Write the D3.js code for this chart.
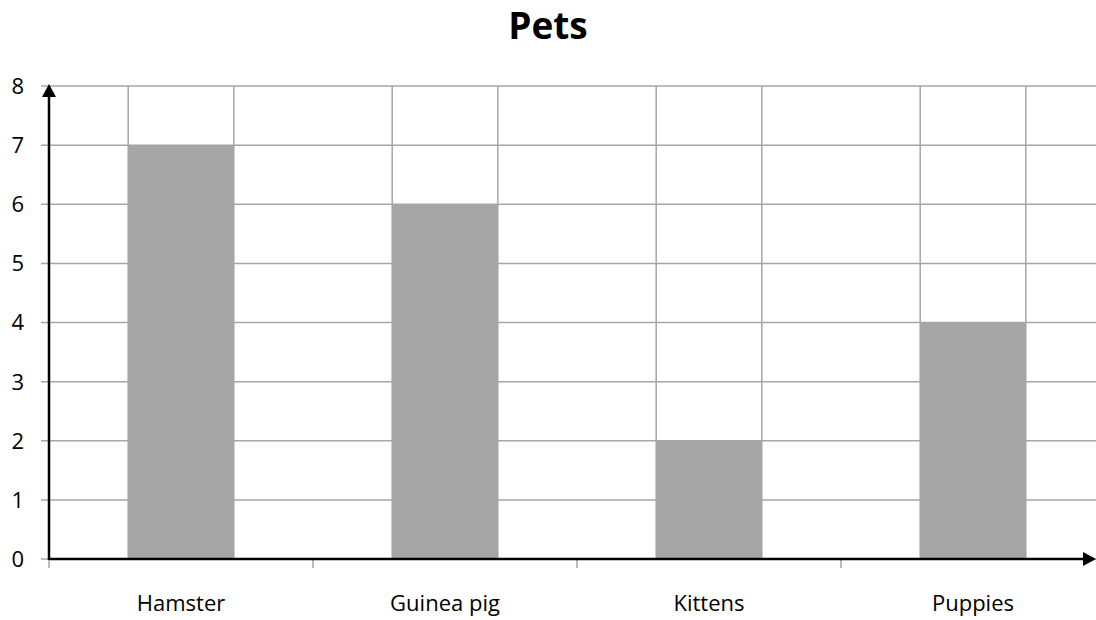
<!DOCTYPE html>
<html><head><meta charset="utf-8">
<script src="https://cdn.jsdelivr.net/npm/d3@7"></script>
<style>body{margin:0;background:#fff}svg{display:block}</style>
</head><body>
<svg id="c" width="1096" height="620"></svg>
<script>
const categories = ["Hamster", "Guinea pig", "Kittens", "Puppies"];
const values = [7, 6, 2, 4];
const yTicks = [0, 1, 2, 3, 4, 5, 6, 7, 8];
const title = "Pets";

(function () {
const svg = d3.select("#c");
const font = "'Open Sans', sans-serif";
const pLeft = 49, pRight = 1105, pTop = 86, pBottom = 559;

const x = d3.scaleBand().domain(categories).range([pLeft, pRight]).padding(0);
const y = d3.scaleLinear().domain([0, 8]).range([pBottom, pTop]);
const barW = x.bandwidth() * 0.4;
const grid = "#a6a6a6";

// horizontal gridlines
svg.append("g").selectAll("line").data(yTicks).join("line")
  .attr("x1", pLeft - 8).attr("x2", 1096)
  .attr("y1", d => y(d)).attr("y2", d => y(d))
  .attr("stroke", grid).attr("stroke-width", 1.5);

// vertical gridlines at bar edges
const edges = [];
categories.forEach(c => {
  const cx = x(c) + x.bandwidth() / 2;
  edges.push(cx - barW / 2, cx + barW / 2);
});
svg.append("g").selectAll("line").data(edges).join("line")
  .attr("x1", d => d).attr("x2", d => d)
  .attr("y1", y(8)).attr("y2", y(0))
  .attr("stroke", grid).attr("stroke-width", 1.5);

// bars
svg.append("g").selectAll("rect").data(categories).join("rect")
  .attr("x", (c) => x(c) + x.bandwidth() / 2 - barW / 2)
  .attr("width", barW)
  .attr("y", (c, i) => y(values[i]))
  .attr("height", (c, i) => y(0) - y(values[i]))
  .attr("fill", "#a6a6a6");

// x ticks
const xt = categories.map(c => x(c));
svg.append("g").selectAll("line").data(xt).join("line")
  .attr("x1", d => d).attr("x2", d => d)
  .attr("y1", pBottom).attr("y2", pBottom + 9)
  .attr("stroke", grid).attr("stroke-width", 1.5);

// y labels
svg.append("g").selectAll("text").data(yTicks).join("text")
  .attr("x", 24).attr("y", d => y(d)).attr("dy", "0.36em")
  .attr("text-anchor", "end")
  .attr("font-family", font).attr("font-size", 22)
  .attr("fill", "#000").text(d => d);

// x labels
svg.append("g").selectAll("text").data(categories).join("text")
  .attr("x", c => x(c) + x.bandwidth() / 2).attr("y", 611)
  .attr("text-anchor", "middle")
  .attr("font-family", font).attr("font-size", 22)
  .attr("fill", "#000").text(c => c);

// axes with arrows
svg.append("line").attr("x1", pLeft).attr("x2", 1088).attr("y1", pBottom).attr("y2", pBottom)
  .attr("stroke", "#000").attr("stroke-width", 2.5);
svg.append("path").attr("d", `M1096,${pBottom} L1083,${pBottom-7} L1083,${pBottom+7} Z`).attr("fill", "#000");
svg.append("line").attr("x1", pLeft).attr("x2", pLeft).attr("y1", pBottom + 1).attr("y2", 95)
  .attr("stroke", "#000").attr("stroke-width", 2.5);
svg.append("path").attr("d", `M${pLeft},84 L${pLeft-7},97 L${pLeft+7},97 Z`).attr("fill", "#000");

// title
svg.append("text").attr("x", 548).attr("y", 39).attr("text-anchor", "middle")
  .attr("font-family", font).attr("font-weight", "bold").attr("font-size", 37)
  .attr("fill", "#000").text(title);
})();
</script>
</body></html>
